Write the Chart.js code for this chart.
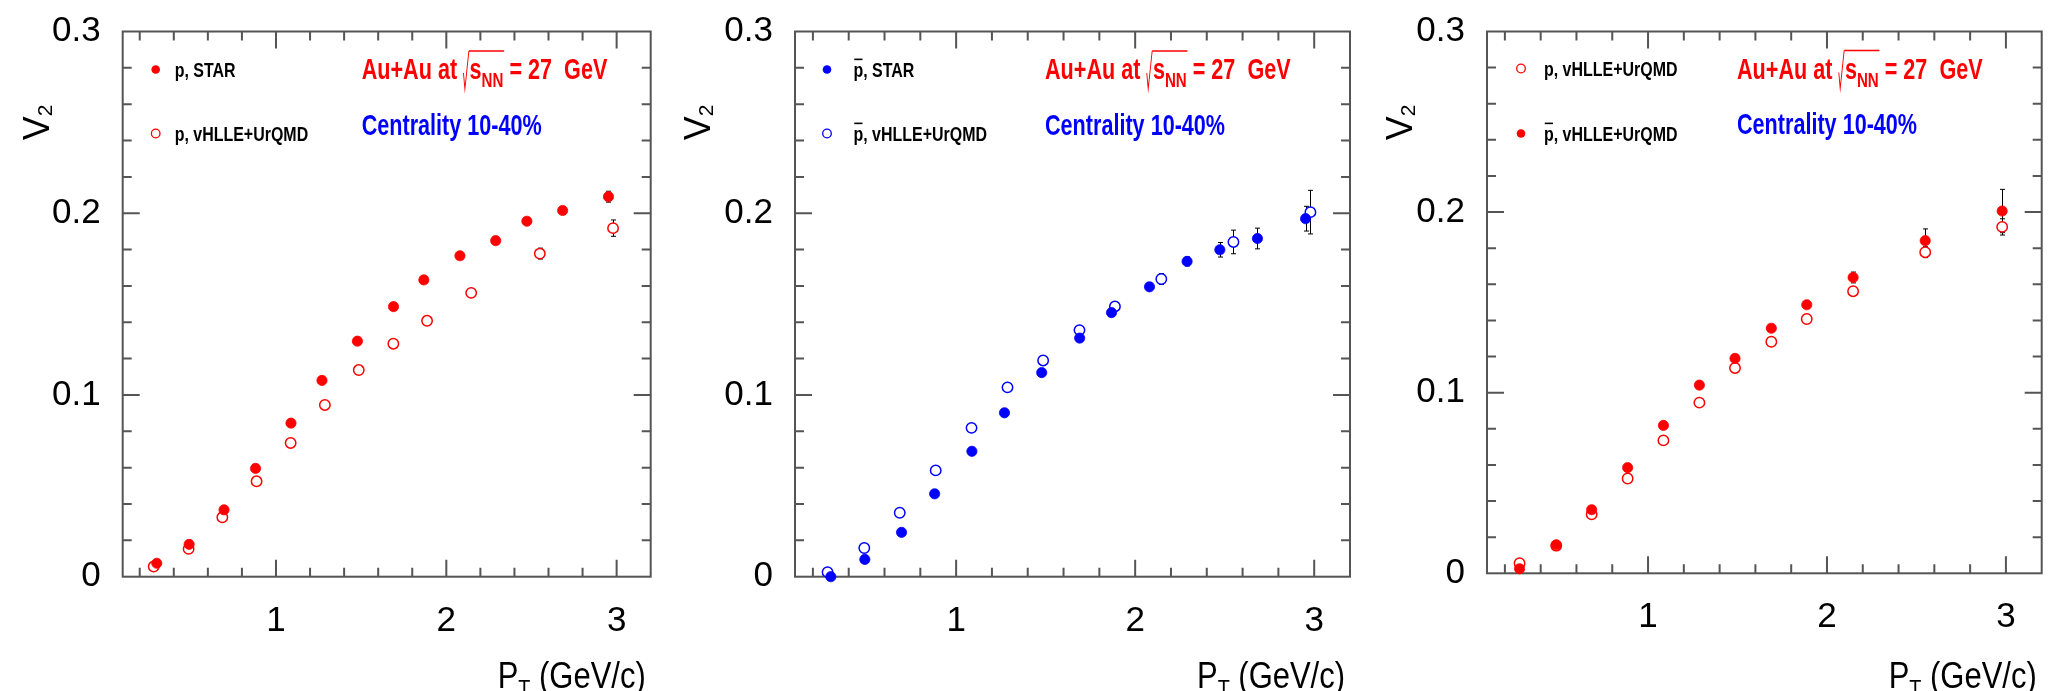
<!DOCTYPE html>
<html>
<head>
<meta charset="utf-8">
<title>v2 of p and pbar, Au+Au 27 GeV</title>
<script src="https://cdn.jsdelivr.net/npm/chart.js@4.4.0/dist/chart.umd.min.js"></script>
<style>
  html, body { margin: 0; padding: 0; background: #fff; }
  #wrap { position: relative; width: 2054px; height: 691px; overflow: hidden; background: #fff; }
  canvas { position: absolute; top: 0; }
</style>
</head>
<body>
<div id="wrap">
  <canvas id="c1" width="685" height="691" style="left:0px"></canvas>
  <canvas id="c2" width="690" height="691" style="left:680px"></canvas>
  <canvas id="c3" width="684" height="691" style="left:1370px"></canvas>
</div>
<script>
// ---- values ----
// STAR measurement bins (pT in GeV/c)
const starPt = [0.30, 0.49, 0.695, 0.88, 1.088, 1.27, 1.478, 1.69, 1.868, 2.08, 2.29, 2.473, 2.683, 2.952];
const pStarV2 = [0.0074, 0.0178, 0.0368, 0.0596, 0.0845, 0.108, 0.1296, 0.1486, 0.1633, 0.1766, 0.1849, 0.1956, 0.2015, 0.2091];
const pStarErr = [0.001, 0.001, 0.001, 0.001, 0.001, 0.001, 0.001, 0.001, 0.0012, 0.0012, 0.0015, 0.0018, 0.002, 0.003];
const pbarStarV2 = [0.0, 0.0095, 0.0244, 0.0456, 0.069, 0.0902, 0.1123, 0.1313, 0.1453, 0.1595, 0.1735, 0.1799, 0.1861, 0.197];
const pbarStarErr = [0.001, 0.001, 0.001, 0.001, 0.001, 0.001, 0.0015, 0.0015, 0.002, 0.002, 0.0025, 0.004, 0.0057, 0.0068];

// vHLLE+UrQMD model bins
const modelPt = [0.282, 0.487, 0.685, 0.886, 1.086, 1.287, 1.486, 1.689, 1.887, 2.146, 2.549, 2.979];
const pModelV2 = [0.0056, 0.0153, 0.0327, 0.0525, 0.0736, 0.0945, 0.1137, 0.1282, 0.1408, 0.1562, 0.1778, 0.1918];
const pModelErr = [0.001, 0.001, 0.001, 0.001, 0.001, 0.001, 0.001, 0.001, 0.0015, 0.002, 0.003, 0.0045];
const pbarModelV2 = [0.0025, 0.0158, 0.0352, 0.0585, 0.0819, 0.1042, 0.119, 0.1357, 0.1487, 0.1638, 0.1842, 0.2006];
const pbarModelErr = [0.001, 0.001, 0.001, 0.001, 0.001, 0.001, 0.001, 0.0015, 0.002, 0.003, 0.0065, 0.012];

const xTickLabels = [1, 2, 3];
const yTickLabels = [0, 0.1, 0.2, 0.3];

const RED = '#ff0000';
const BLUE = '#0000ff';
const FRAME = '#555555';
const FONT = '"Liberation Sans", Arial, Helvetica, sans-serif';

function toPoints(xs, ys) {
    return xs.map((x, i) => ({ x: x, y: ys[i] }));
}

function filledSet(label, xs, ys, errs, color) {
    return {
        label: label, data: toPoints(xs, ys), errors: errs, filled: true,
        pointStyle: 'circle', pointRadius: 5.1, pointBorderWidth: 0.8,
        backgroundColor: color, borderColor: color, order: 0, clip: false
    };
}

function openSet(label, xs, ys, errs, color) {
    return {
        label: label, data: toPoints(xs, ys), errors: errs, filled: false,
        pointStyle: 'circle', pointRadius: 5.2, pointBorderWidth: 1.5,
        backgroundColor: '#ffffff', borderColor: color, order: 1, clip: false
    };
}

// draws a run of text pieces (subscripts, overlines, square root) with optional horizontal squeeze
function richWidth(ctx, parts) {
    let w = 0;
    parts.forEach(p => {
        ctx.font = (p.weight || 'bold') + ' ' + p.size + 'px ' + FONT;
        if (p.rootStart) w += p.rootW;
        w += ctx.measureText(p.t).width;
    });
    return w;
}

function drawRich(ctx, x, y, parts, opts) {
    ctx.save();
    ctx.translate(x, y);
    if (opts.rotate) ctx.rotate(opts.rotate);
    const sx = opts.sx || 1;
    ctx.scale(sx, 1);
    ctx.fillStyle = opts.color;
    ctx.strokeStyle = opts.color;
    ctx.textAlign = 'left';
    ctx.textBaseline = 'alphabetic';
    let cx = opts.align === 'right' ? -richWidth(ctx, parts) : 0;
    let barStart = 0;
    parts.forEach(p => {
        ctx.font = (p.weight || 'bold') + ' ' + p.size + 'px ' + FONT;
        const dy = p.dy || 0;
        if (p.rootStart) {
            // square root sign
            ctx.lineWidth = 1.3;
            ctx.beginPath();
            ctx.moveTo(cx + 0.5, -6);
            ctx.lineTo(cx + 2.5, 10);
            ctx.lineTo(cx + p.rootW - 1, -28);
            ctx.stroke();
            cx += p.rootW;
            barStart = cx - 1;
        }
        const w = ctx.measureText(p.t).width;
        ctx.fillText(p.t, cx, dy);
        if (p.over) {
            ctx.lineWidth = 1.6;
            ctx.beginPath();
            ctx.moveTo(cx + 1, dy - p.size * 0.84);
            ctx.lineTo(cx + w - 1, dy - p.size * 0.84);
            ctx.stroke();
        }
        cx += w;
        if (p.rootEnd) {
            ctx.lineWidth = 1.3;
            ctx.beginPath();
            ctx.moveTo(barStart, -28);
            ctx.lineTo(cx + 1, -28);
            ctx.stroke();
        }
    });
    ctx.restore();
}

const energyText = [
    { t: 'Au+Au at ', size: 30 },
    { t: 's', size: 30, rootStart: true, rootW: 9 },
    { t: 'NN', size: 21, dy: 8, rootEnd: true },
    { t: ' = 27  GeV', size: 30 }
];
const centralityText = [{ t: 'Centrality 10-40%', size: 30 }];
const ptTitle = [
    { t: 'P', size: 36, weight: 'normal' },
    { t: 'T', size: 23, dy: 9, weight: 'normal' },
    { t: ' (GeV/c)', size: 36, weight: 'normal' }
];
const v2Title = [
    { t: 'V', size: 36, weight: 'normal' },
    { t: '2', size: 21, dy: 3, weight: 'normal' }
];

// frame, ROOT style ticks on all four sides, error bars
const rootPlot = {
    id: 'rootPlot',
    beforeDatasetsDraw(chart) {
        const { ctx, chartArea: a, scales } = chart;
        const xs = scales.x, ys = scales.y;
        ctx.save();
        ctx.strokeStyle = FRAME;
        ctx.lineWidth = 2;
        ctx.strokeRect(a.left, a.top, a.right - a.left, a.bottom - a.top);
        ctx.beginPath();
        for (let i = 1; i <= 15; i++) {
            const px = xs.getPixelForValue(i * 0.2);
            const len = i % 5 === 0 ? 17 : 9;
            ctx.moveTo(px, a.bottom); ctx.lineTo(px, a.bottom - len);
            ctx.moveTo(px, a.top); ctx.lineTo(px, a.top + len);
        }
        for (let i = 1; i <= 14; i++) {
            const py = ys.getPixelForValue(i * 0.02);
            const len = i % 5 === 0 ? 17 : 9;
            ctx.moveTo(a.left, py); ctx.lineTo(a.left + len, py);
            ctx.moveTo(a.right, py); ctx.lineTo(a.right - len, py);
        }
        ctx.stroke();

        // error bars
        ctx.strokeStyle = '#000';
        ctx.lineWidth = 1;
        chart.data.datasets.forEach(ds => {
            ds.data.forEach((pt, i) => {
                const e = ds.errors[i];
                const px = Math.round(xs.getPixelForValue(pt.x)) + 0.5;
                const y1 = ys.getPixelForValue(pt.y + e);
                const y2 = ys.getPixelForValue(pt.y - e);
                ctx.beginPath();
                ctx.moveTo(px, y1); ctx.lineTo(px, y2);
                ctx.moveTo(px - 2.5, y1); ctx.lineTo(px + 2.5, y1);
                ctx.moveTo(px - 2.5, y2); ctx.lineTo(px + 2.5, y2);
                ctx.stroke();
            });
        });
        ctx.restore();
    },
    afterDraw(chart) {
        const { ctx, chartArea: a } = chart;
        const o = chart.options.plugins.rootPlot;
        const L = o.legend;

        // legend entries
        chart.data.datasets.forEach((ds, k) => {
            const item = o.items[k];
            const mx = a.left + L.mx, my = a.top + L.my[item.row];
            ctx.save();
            ctx.beginPath();
            ctx.arc(mx, my, 4.3, 0, Math.PI * 2);
            if (ds.filled) {
                ctx.fillStyle = ds.borderColor;
                ctx.fill();
            } else {
                ctx.strokeStyle = ds.borderColor;
                ctx.lineWidth = 1.3;
                ctx.stroke();
            }
            ctx.restore();
            drawRich(ctx, a.left + L.tx, a.top + L.ty[item.row], item.parts, { color: '#000', sx: 0.76 });
        });

        // header texts
        drawRich(ctx, a.left + o.note.x, a.top + o.note.y1, energyText, { color: RED, sx: 0.72 });
        drawRich(ctx, a.left + o.note.x, a.top + o.note.y2, centralityText, { color: BLUE, sx: 0.72 });

        // axis titles
        drawRich(ctx, a.right - 5, 688, ptTitle, { color: '#000', sx: 0.86, align: 'right' });
        drawRich(ctx, a.left - o.yTitleOff, a.top + 73, v2Title, { color: '#000', rotate: -Math.PI / 2, align: 'right' });
    }
};

function lbl(text, bar) {
    const parts = [];
    if (bar) parts.push({ t: 'p', size: 21, over: true });
    else parts.push({ t: 'p', size: 21 });
    parts.push({ t: ', ' + text, size: 21 });
    return parts;
}

function makePanel(id, area, datasets, extra) {
    const canvas = document.getElementById(id);
    const W = canvas.width, H = canvas.height;
    return new Chart(canvas.getContext('2d'), {
        type: 'scatter',
        data: { datasets: datasets },
        options: {
            responsive: false,
            animation: false,
            events: [],
            layout: { padding: { top: area.top, right: W - area.right, bottom: 0, left: 0 } },
            plugins: {
                legend: { display: false },
                tooltip: { enabled: false },
                rootPlot: extra
            },
            scales: {
                x: {
                    type: 'linear', min: 0.1, max: 3.2,
                    grid: { display: false }, border: { display: false },
                    afterBuildTicks: s => { s.ticks = xTickLabels.map(v => ({ value: v })); },
                    afterFit: s => { s.height = H - area.bottom; },
                    ticks: {
                        color: '#000', padding: 19, maxRotation: 0, autoSkip: false,
                        font: { family: FONT, size: 35, lineHeight: 1 },
                        callback: v => String(v)
                    }
                },
                y: {
                    type: 'linear', min: 0, max: 0.3,
                    grid: { display: false }, border: { display: false },
                    afterBuildTicks: s => { s.ticks = yTickLabels.map(v => ({ value: v })); },
                    afterFit: s => { s.width = area.left; },
                    ticks: {
                        color: '#000', padding: 14, autoSkip: false,
                        font: { family: FONT, size: 35, lineHeight: 1 },
                        callback: v => (v === 0 ? '0' : v.toFixed(1))
                    }
                }
            }
        },
        plugins: [rootPlot]
    });
}

Chart.defaults.font.family = FONT;

const legendPos = { my: [38, 102], ty: [45.5, 109.5] };

// panel 1: protons, STAR vs model
makePanel('c1', { left: 122.7, right: 650.7, top: 19, bottom: 576.7 }, [
    filledSet('p, STAR', starPt, pStarV2, pStarErr, RED),
    openSet('p, vHLLE+UrQMD', modelPt, pModelV2, pModelErr, RED)
], {
    items: [{ row: 0, parts: lbl('STAR', false) }, { row: 1, parts: lbl('vHLLE+UrQMD', false) }],
    legend: { mx: 33, my: legendPos.my, tx: 52, ty: legendPos.ty },
    note: { x: 239, y1: 47.5, y2: 103 },
    yTitleOff: 74
});

// panel 2: antiprotons, STAR vs model
makePanel('c2', { left: 115, right: 670, top: 19, bottom: 576.7 }, [
    filledSet('pbar, STAR', starPt, pbarStarV2, pbarStarErr, BLUE),
    openSet('pbar, vHLLE+UrQMD', modelPt, pbarModelV2, pbarModelErr, BLUE)
], {
    items: [{ row: 0, parts: lbl('STAR', true) }, { row: 1, parts: lbl('vHLLE+UrQMD', true) }],
    legend: { mx: 32, my: legendPos.my, tx: 58.5, ty: legendPos.ty },
    note: { x: 250, y1: 47.5, y2: 103 },
    yTitleOff: 85
});

// panel 3: model p vs pbar
makePanel('c3', { left: 117, right: 671.7, top: 19, bottom: 573.3 }, [
    filledSet('pbar, vHLLE+UrQMD', modelPt, pbarModelV2, pbarModelErr, RED),
    openSet('p, vHLLE+UrQMD', modelPt, pModelV2, pModelErr, RED)
], {
    items: [{ row: 1, parts: lbl('vHLLE+UrQMD', true) }, { row: 0, parts: lbl('vHLLE+UrQMD', false) }],
    legend: { mx: 34, my: [37, 102], tx: 57, ty: [44.5, 109.5] },
    note: { x: 250, y1: 47, y2: 102 },
    yTitleOff: 75
});
</script>
</body>
</html>
